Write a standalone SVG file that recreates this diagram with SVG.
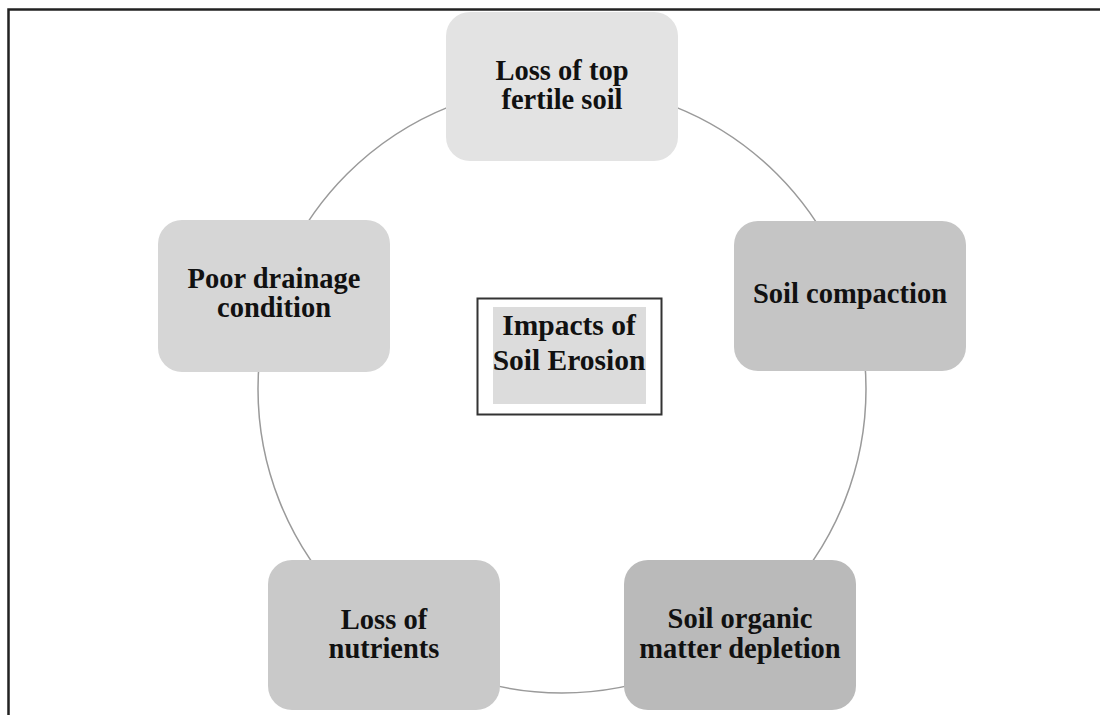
<svg xmlns="http://www.w3.org/2000/svg" width="1100" height="715" viewBox="0 0 1100 715">
<style>
.frame{fill:none;stroke:#222;stroke-width:2.5}
.link{fill:none;stroke:#9a9a9a;stroke-width:1.5}
.node{stroke:none}
.t{font-family:"Liberation Serif","Times New Roman",serif;font-weight:bold;font-size:28.5px;fill:#111;text-anchor:middle}
.tc{font-family:"Liberation Serif","Times New Roman",serif;font-weight:bold;font-size:29.5px;fill:#111;text-anchor:middle}
</style>
<rect width="1100" height="715" fill="#fff"/>
<path class="frame" d="M8.5,715 V9.5 H1100"/>
<g id="connectors">
<circle class="link" cx="562" cy="389" r="304"/>
</g>
<g id="node-top">
<rect class="node" x="446" y="12" width="232" height="149" rx="24" fill="#e3e3e3"/>
<text class="t" x="562" y="80">Loss of top</text>
<text class="t" x="562" y="109">fertile soil</text>
</g>
<g id="node-right">
<rect class="node" x="734" y="221" width="232" height="150" rx="24" fill="#c5c5c5"/>
<text class="t" x="850" y="303">Soil compaction</text>
</g>
<g id="node-bottom-right">
<rect class="node" x="624" y="560" width="232" height="150" rx="24" fill="#bababa"/>
<text class="t" x="740" y="628">Soil organic</text>
<text class="t" x="740" y="658">matter depletion</text>
</g>
<g id="node-bottom-left">
<rect class="node" x="268" y="560" width="232" height="150" rx="24" fill="#c9c9c9"/>
<text class="t" x="384" y="629">Loss of</text>
<text class="t" x="384" y="658">nutrients</text>
</g>
<g id="node-left">
<rect class="node" x="158" y="220" width="232" height="152" rx="24" fill="#d6d6d6"/>
<text class="t" x="274" y="288">Poor drainage</text>
<text class="t" x="274" y="317">condition</text>
</g>
<g id="node-center">
<rect x="477.5" y="298.5" width="184" height="116" fill="#fff" stroke="#333" stroke-width="2"/>
<rect x="493" y="307" width="153" height="97" fill="#dcdcdc"/>
<text class="tc" x="569" y="335">Impacts of</text>
<text class="tc" x="569" y="370">Soil Erosion</text>
</g>
</svg>
